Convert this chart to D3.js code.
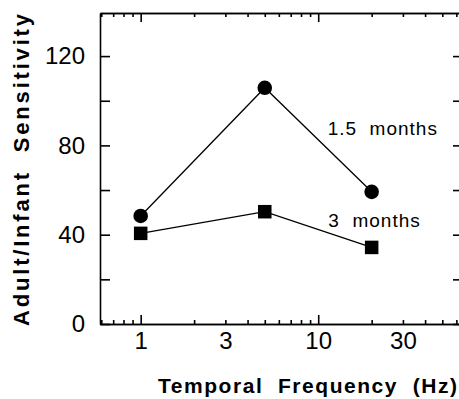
<!DOCTYPE html>
<html>
<head>
<meta charset="utf-8">
<script src="https://cdn.jsdelivr.net/npm/d3@7"></script>
<style>
  body { margin: 0; background: #fff; }
  svg { display: block; font-family: "Liberation Sans", Arial, Helvetica, sans-serif; }
</style>
</head>
<body>
<div id="chart"></div>
<script>
// temporal frequencies (Hz) and adult/infant sensitivity ratios
const freqs = [1, 5, 20];
const age15 = [48.4, 105.8, 59.2];   // 1.5 months, circles
const age3 = [40.6, 50.3, 34.3];     // 3 months, squares

const xTickLabels = [1, 3, 10, 30];
const yTickLabels = [0, 40, 80, 120];
const seriesNames = ["1.5  months", "3  months"];
// label anchors in data units (frequency, sensitivity)
const labelFreq = [11.3, 11.4];
const labelVal = [84.6, 43.4];

const width = 459, height = 399;
const mLeft = 100, mRight = 460, mTop = 13, mBottom = 324;

const svg = d3.select("#chart").append("svg")
    .attr("width", width)
    .attr("height", height);

const x = d3.scaleLog().domain([0.59, 62.9]).range([mLeft, mRight]);
const y = d3.scaleLinear().domain([0, 139.3]).range([mBottom, mTop]);

// minor / major log ticks
const minor = [0.6, 0.7, 0.8, 0.9, 2, 3, 4, 5, 6, 7, 8, 9, 20, 30, 40, 50, 60];
const major = [1, 10];

function noText(g) { g.selectAll("text").remove(); }

// bottom axis
svg.append("g").attr("transform", `translate(0,${mBottom})`)
    .call(d3.axisBottom(x).tickValues(minor).tickSize(-4).tickSizeOuter(0))
    .call(noText);
svg.append("g").attr("transform", `translate(0,${mBottom})`)
    .call(d3.axisBottom(x).tickValues(major).tickSize(-9).tickSizeOuter(0))
    .call(noText);
svg.append("g").attr("transform", `translate(0,${mBottom})`)
    .call(d3.axisBottom(x).tickValues(xTickLabels).tickSize(0).tickPadding(8)
        .tickFormat(d3.format("d")).tickSizeOuter(0))
    .call(g => g.select(".domain").remove())
    .call(g => g.selectAll("text").attr("font-size", 24).attr("font-family", null));

// top axis
svg.append("g").attr("transform", `translate(0,${mTop})`)
    .call(d3.axisTop(x).tickValues(minor).tickSize(-4).tickSizeOuter(0))
    .call(noText);
svg.append("g").attr("transform", `translate(0,${mTop})`)
    .call(d3.axisTop(x).tickValues(major).tickSize(-9).tickSizeOuter(0))
    .call(noText);

// left axis
svg.append("g").attr("transform", `translate(${mLeft},0)`)
    .call(d3.axisLeft(y).ticks(7).tickSize(-10).tickSizeOuter(0))
    .call(noText);
svg.append("g").attr("transform", `translate(${mLeft},0)`)
    .call(d3.axisLeft(y).tickValues(yTickLabels).tickSize(0).tickPadding(15))
    .call(g => g.select(".domain").remove())
    .call(g => g.selectAll("text").attr("font-size", 24).attr("font-family", null));

// right axis
svg.append("g").attr("transform", `translate(${mRight},0)`)
    .call(d3.axisRight(y).ticks(7).tickSize(-7).tickSizeOuter(0))
    .call(noText);

svg.selectAll(".domain, .tick line").attr("stroke", "#000").attr("stroke-width", 1.6);

// lines
const line = d3.line().x((d, i) => x(freqs[i])).y(d => y(d));
[age15, age3].forEach(s => {
    svg.append("path")
        .attr("d", line(s))
        .attr("fill", "none")
        .attr("stroke", "#000")
        .attr("stroke-width", 1.3);
});

// markers
svg.append("g").selectAll("circle")
    .data(age15)
    .join("circle")
    .attr("cx", (d, i) => x(freqs[i]))
    .attr("cy", d => y(d))
    .attr("r", 7.3)
    .attr("fill", "#000");

const sq = 13.5;
svg.append("g").selectAll("rect")
    .data(age3)
    .join("rect")
    .attr("x", (d, i) => x(freqs[i]) - sq / 2)
    .attr("y", d => y(d) - sq / 2)
    .attr("width", sq)
    .attr("height", sq)
    .attr("fill", "#000");

// series labels
svg.append("g").selectAll("text")
    .data(seriesNames)
    .join("text")
    .attr("x", (d, i) => x(labelFreq[i]))
    .attr("y", (d, i) => y(labelVal[i]))
    .attr("font-size", 19)
    .attr("letter-spacing", 1)
    .style("white-space", "pre")
    .text(d => d);

// axis titles
svg.append("text")
    .attr("x", 158)
    .attr("y", 393)
    .attr("font-size", 21)
    .attr("font-weight", "bold")
    .attr("textLength", 299)
    .attr("lengthAdjust", "spacing")
    .style("white-space", "pre")
    .text("Temporal  Frequency  (Hz)");

svg.append("text")
    .attr("transform", "translate(29,170) rotate(-90)")
    .attr("text-anchor", "middle")
    .attr("font-size", 22)
    .attr("font-weight", "bold")
    .attr("textLength", 312)
    .attr("lengthAdjust", "spacing")
    .style("white-space", "pre")
    .text("Adult/Infant  Sensitivity");
</script>
</body>
</html>
